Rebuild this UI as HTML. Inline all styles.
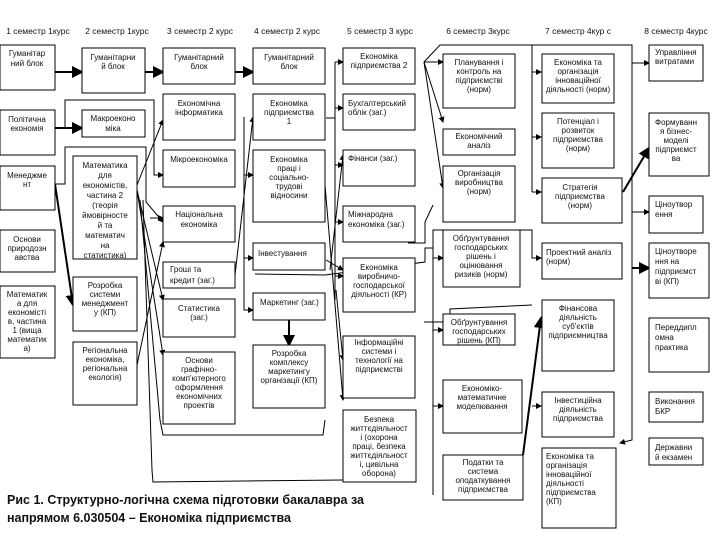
<!DOCTYPE html>
<html><head><meta charset="utf-8"><style>
html,body{margin:0;padding:0;background:#fff;}
svg{display:block;}
text{font-family:"Liberation Sans",sans-serif;font-size:8px;fill:#111;}
.h{font-size:8.5px;}
.c{font-family:"Liberation Sans",sans-serif;font-size:12.5px;font-weight:bold;}
rect{fill:#fff;stroke:#000;stroke-width:1;}
line,polyline{stroke:#000;stroke-width:1;fill:none;}
.t{stroke-width:2;}
</style></head><body>
<svg width="720" height="540" viewBox="0 0 720 540" xmlns="http://www.w3.org/2000/svg">
<defs><marker id="a" markerWidth="6" markerHeight="6" refX="5" refY="3" orient="auto"><path d="M0,0 L6,3 L0,6 z" fill="#000"/></marker></defs>
<!-- headers -->
<g class="h" text-anchor="middle">
<text x="38" y="34" class="h">1 семестр 1курс</text>
<text x="117" y="34" class="h">2 семестр 1курс</text>
<text x="200" y="34" class="h">3 семестр 2 курс</text>
<text x="287" y="34" class="h">4 семестр 2 курс</text>
<text x="380" y="34" class="h">5 семестр 3 курс</text>
<text x="478" y="34" class="h">6 семестр 3курс</text>
<text x="578" y="34" class="h">7 семестр 4кур с</text>
<text x="676" y="34" class="h">8 семестр 4курс</text>
</g>
<!-- connectors -->
<g>
<line x1="55" y1="72" x2="82" y2="72" class="t" marker-end="url(#a)"/>
<line x1="145" y1="72" x2="163" y2="72" class="t" marker-end="url(#a)"/>
<line x1="235" y1="72" x2="253" y2="72" class="t" marker-end="url(#a)"/>
<line x1="55" y1="128" x2="82" y2="128" class="t" marker-end="url(#a)"/>
<polyline points="65,128 65,100 154,100 154,175 163,175" marker-end="url(#a)"/>
<polyline points="55,184 65,184 65,147 146,147 146,202 163,222" marker-end="url(#a)"/>
<line x1="55" y1="184" x2="73" y2="305" class="t" marker-end="url(#a)"/>
<line x1="137" y1="185" x2="163" y2="120" marker-end="url(#a)"/>
<line x1="137" y1="190" x2="163" y2="300" marker-end="url(#a)"/>
<line x1="137" y1="190" x2="163" y2="355" marker-end="url(#a)"/>
<line x1="140" y1="200" x2="160" y2="420"/>
<line x1="143" y1="200" x2="152" y2="470"/>
<line x1="137" y1="365" x2="163" y2="242" marker-end="url(#a)"/>
<polyline points="160,420 163,435 323,435 325,420"/>
<polyline points="152,470 153,482 343,480"/>
<line x1="150" y1="218" x2="163" y2="218" marker-end="url(#a)"/>
<line x1="235" y1="275" x2="253" y2="117" marker-end="url(#a)"/>
<polyline points="244,117 244,310 253,310" marker-end="url(#a)"/>
<line x1="244" y1="175" x2="253" y2="175" marker-end="url(#a)"/>
<line x1="244" y1="258" x2="253" y2="258" marker-end="url(#a)"/>
<line x1="289" y1="320" x2="289" y2="345" class="t" marker-end="url(#a)"/>
<line x1="325" y1="185" x2="343" y2="400" marker-end="url(#a)"/>
<line x1="330" y1="270" x2="343" y2="155" marker-end="url(#a)"/>
<line x1="326" y1="260" x2="343" y2="270" marker-end="url(#a)"/>
<line x1="326" y1="118" x2="335" y2="118"/>
<line x1="335" y1="62" x2="335" y2="300"/>
<line x1="335" y1="62" x2="343" y2="62" marker-end="url(#a)"/>
<line x1="335" y1="108" x2="343" y2="108" marker-end="url(#a)"/>
<line x1="335" y1="165" x2="343" y2="165" marker-end="url(#a)"/>
<line x1="335" y1="222" x2="343" y2="222" marker-end="url(#a)"/>
<line x1="335" y1="276" x2="343" y2="276" marker-end="url(#a)"/>
<line x1="336" y1="290" x2="343" y2="360" marker-end="url(#a)"/>
<polyline points="255,274 325,275 425,262 425,248 433,248 433,230 532,230 532,258 541,258" marker-end="url(#a)"/>
<line x1="433" y1="230" x2="433" y2="495"/>
<line x1="433" y1="258" x2="443" y2="258" marker-end="url(#a)"/>
<line x1="433" y1="330" x2="443" y2="330" marker-end="url(#a)"/>
<line x1="433" y1="406" x2="443" y2="406" marker-end="url(#a)"/>
<polyline points="424,322 425,322 450,322 450,309 532,305"/>
<polyline points="408,243 425,243 425,222 433,205"/>
<line x1="424" y1="62" x2="443" y2="62" marker-end="url(#a)"/>
<line x1="424" y1="62" x2="443" y2="122" marker-end="url(#a)"/>
<line x1="424" y1="62" x2="443" y2="188" marker-end="url(#a)"/>
<polyline points="424,62 440,45 632,45 632,440 620,443" marker-end="url(#a)"/>
<line x1="532" y1="45" x2="532" y2="192"/>
<line x1="532" y1="72" x2="541" y2="72" marker-end="url(#a)"/>
<line x1="532" y1="137" x2="541" y2="137" marker-end="url(#a)"/>
<line x1="532" y1="192" x2="541" y2="192" marker-end="url(#a)"/>
<line x1="523" y1="455" x2="541" y2="318" class="t" marker-end="url(#a)"/>
<line x1="532" y1="406" x2="541" y2="406" marker-end="url(#a)"/>
<line x1="632" y1="63" x2="649" y2="63" marker-end="url(#a)"/>
<line x1="623" y1="192" x2="649" y2="148" class="t" marker-end="url(#a)"/>
<line x1="632" y1="212" x2="649" y2="212" marker-end="url(#a)"/>
<line x1="632" y1="268" x2="649" y2="268" class="t" marker-end="url(#a)"/>
</g>
<!-- boxes -->
<g>
<rect x="0" y="45" width="55" height="45"/><rect x="0" y="110" width="55" height="45"/>
<rect x="0" y="166" width="55" height="44"/><rect x="0" y="230" width="55" height="42"/>
<rect x="0" y="286" width="55" height="72"/>
<rect x="82" y="48" width="63" height="45"/><rect x="82" y="110" width="63" height="27"/>
<rect x="73" y="156" width="64" height="103"/><rect x="73" y="277" width="64" height="54"/>
<rect x="73" y="342" width="64" height="63"/>
<rect x="163" y="48" width="72" height="36"/><rect x="163" y="94" width="72" height="46"/>
<rect x="163" y="150" width="72" height="37"/><rect x="163" y="206" width="72" height="36"/>
<rect x="163" y="262" width="72" height="26"/><rect x="163" y="299" width="72" height="38"/>
<rect x="163" y="352" width="72" height="72"/>
<rect x="253" y="48" width="72" height="36"/><rect x="253" y="94" width="72" height="46"/>
<rect x="253" y="150" width="72" height="72"/><rect x="253" y="243" width="72" height="27"/>
<rect x="253" y="293" width="72" height="27"/><rect x="253" y="345" width="72" height="63"/>
<rect x="343" y="48" width="72" height="36"/><rect x="343" y="94" width="72" height="36"/>
<rect x="343" y="150" width="72" height="36"/><rect x="343" y="206" width="72" height="36"/>
<rect x="343" y="258" width="72" height="54"/><rect x="343" y="336" width="72" height="62"/>
<rect x="343" y="410" width="73" height="72"/>
<rect x="443" y="54" width="72" height="54"/><rect x="443" y="129" width="72" height="26"/>
<rect x="443" y="166" width="72" height="56"/><rect x="443" y="230" width="77" height="57"/>
<rect x="443" y="314" width="72" height="31"/><rect x="443" y="380" width="79" height="53"/>
<rect x="443" y="455" width="80" height="45"/>
<rect x="542" y="54" width="72" height="49"/><rect x="542" y="113" width="72" height="55"/>
<rect x="542" y="178" width="80" height="45"/><rect x="542" y="243" width="80" height="36"/>
<rect x="542" y="300" width="72" height="71"/><rect x="542" y="392" width="72" height="45"/>
<rect x="542" y="448" width="74" height="80"/>
<rect x="649" y="45" width="54" height="36"/><rect x="649" y="113" width="60" height="63"/>
<rect x="649" y="196" width="54" height="37"/><rect x="649" y="243" width="60" height="55"/>
<rect x="649" y="318" width="60" height="54"/><rect x="649" y="392" width="54" height="30"/>
<rect x="649" y="438" width="54" height="27"/>
</g>
<!-- labels -->
<g text-anchor="middle">
<text x="27" y="56">Гуманітар</text><text x="27" y="66">ний блок</text>
<text x="27" y="122">Політична</text><text x="27" y="131">економія</text>
<text x="27" y="178">Менеджме</text><text x="27" y="187">нт</text>
<text x="27" y="242">Основи</text><text x="27" y="251">природозн</text><text x="27" y="260">авства</text>
<text x="27" y="297">Математик</text><text x="27" y="306">а для</text><text x="27" y="315">економісті</text><text x="27" y="324">в, частина</text><text x="27" y="333">1 (вища</text><text x="27" y="342">математик</text><text x="27" y="351">а)</text>
<text x="113" y="60">Гуманітарни</text><text x="113" y="69">й блок</text>
<text x="113" y="121">Макроеконо</text><text x="113" y="131">міка</text>
<text x="105" y="168">Математика</text><text x="105" y="178">для</text><text x="105" y="188">економістів,</text><text x="105" y="198">частина 2</text><text x="105" y="208">(теорія</text><text x="105" y="218">ймовірносте</text><text x="105" y="228">й та</text><text x="105" y="238">математич</text><text x="105" y="248">на</text><text x="105" y="258">статистика)</text>
<text x="105" y="288">Розробка</text><text x="105" y="297">системи</text><text x="105" y="306">менеджмент</text><text x="105" y="315">у (КП)</text>
<text x="105" y="353">Регіональна</text><text x="105" y="362">економіка,</text><text x="105" y="371">регіональна</text><text x="105" y="380">екологія)</text>
<text x="199" y="60">Гуманітарний</text><text x="199" y="69">блок</text>
<text x="199" y="106">Економічна</text><text x="199" y="115">інформатика</text>
<text x="199" y="162">Мікроекономіка</text>
<text x="199" y="217">Національна</text><text x="199" y="227">економіка</text>
<text x="199" y="311">Статистика</text><text x="199" y="320">(заг.)</text>
<text x="199" y="363">Основи</text><text x="199" y="372">графічно-</text><text x="199" y="381">комп'ютерного</text><text x="199" y="390">оформлення</text><text x="199" y="399">економічних</text><text x="199" y="408">проектів</text>
<text x="289" y="60">Гуманітарний</text><text x="289" y="69">блок</text>
<text x="289" y="106">Економіка</text><text x="289" y="115">підприємства</text><text x="289" y="124">1</text>
<text x="289" y="162">Економіка</text><text x="289" y="171">праці і</text><text x="289" y="180">соціально-</text><text x="289" y="189">трудові</text><text x="289" y="198">відносини</text>
<text x="289" y="356">Розробка</text><text x="289" y="365">комплексу</text><text x="289" y="374">маркетингу</text><text x="289" y="383">організації (КП)</text>
<text x="379" y="59">Економіка</text><text x="379" y="68">підприємства 2</text>
<text x="379" y="399" font-size="7.5"></text>
<text x="379" y="270">Економіка</text><text x="379" y="279">виробничо-</text><text x="379" y="288">господарської</text><text x="379" y="297">діяльності (КР)</text>
<text x="379" y="345">Інформаційні</text><text x="379" y="354">системи і</text><text x="379" y="363">технології на</text><text x="379" y="372">підприємстві</text>
<text x="379" y="422">Безпека</text><text x="379" y="431">життєдіяльност</text><text x="379" y="440">і (охорона</text><text x="379" y="449">праці, безпека</text><text x="379" y="458">життєдіяльност</text><text x="379" y="467">і, цивільна</text><text x="379" y="476">оборона)</text>
<text x="479" y="65">Планування і</text><text x="479" y="74">контроль на</text><text x="479" y="83">підприємстві</text><text x="479" y="92">(норм)</text>
<text x="479" y="139">Економічний</text><text x="479" y="148">аналіз</text>
<text x="479" y="176">Організація</text><text x="479" y="185">виробництва</text><text x="479" y="194">(норм)</text>
<text x="481" y="241">Обґрунтування</text><text x="481" y="250">господарських</text><text x="481" y="259">рішень і</text><text x="481" y="268">оцінювання</text><text x="481" y="277">ризиків (норм)</text>
<text x="479" y="325">Обґрунтування</text><text x="479" y="334">господарських</text><text x="479" y="343">рішень (КП)</text>
<text x="482" y="391">Економіко-</text><text x="482" y="400">математичне</text><text x="482" y="409">моделювання</text>
<text x="483" y="465">Податки та</text><text x="483" y="474">система</text><text x="483" y="483">оподаткування</text><text x="483" y="492">підприємства</text>
<text x="578" y="65">Економіка та</text><text x="578" y="74">організація</text><text x="578" y="83">інноваційної</text><text x="578" y="92">діяльності (норм)</text>
<text x="578" y="124">Потенціал і</text><text x="578" y="133">розвиток</text><text x="578" y="142">підприємства</text><text x="578" y="151">(норм)</text>
<text x="580" y="190">Стратегія</text><text x="580" y="199">підприємства</text><text x="580" y="208">(норм)</text>
<text x="578" y="311">Фінансова</text><text x="578" y="320">діяльність</text><text x="578" y="329">суб'єктів</text><text x="578" y="338">підприємництва</text>
<text x="578" y="403">Інвестиційна</text><text x="578" y="412">діяльність</text><text x="578" y="421">підприємства</text>
<text x="676" y="125">Формуванн</text><text x="676" y="134">я бізнес-</text><text x="676" y="143">моделі</text><text x="676" y="152">підприємст</text><text x="676" y="161">ва</text>
</g>
<g>
<text x="170" y="272">Гроші  та</text><text x="170" y="283">кредит  (заг.)</text>
<text x="258" y="256">Інвестування</text>
<text x="260" y="305">Маркетинг (заг.)</text>
<text x="348" y="106">Бухгалтерський</text><text x="348" y="115">облік (заг.)</text>
<text x="348" y="161">Фінанси (заг.)</text>
<text x="348" y="217">Міжнародна</text><text x="348" y="227">економіка  (заг.)</text>
<text x="546" y="255">Проектний аналіз</text><text x="546" y="264">(норм)</text>
<text x="546" y="459">Економіка та</text><text x="546" y="468">організація</text><text x="546" y="477">інноваційної</text><text x="546" y="486">діяльності</text><text x="546" y="495">підприємства</text><text x="546" y="504">(КП)</text>
<text x="655" y="55">Управління</text><text x="655" y="64">витратами</text>
<text x="655" y="207">Ціноутвор</text><text x="655" y="217">ення</text>
<text x="655" y="254">Ціноутворе</text><text x="655" y="264">ння на</text><text x="655" y="274">підприємст</text><text x="655" y="284">ві (КП)</text>
<text x="655" y="330">Переддипл</text><text x="655" y="340">омна</text><text x="655" y="350">практика</text>
<text x="655" y="404">Виконання</text><text x="655" y="414">БКР</text>
<text x="655" y="450">Державни</text><text x="655" y="460">й екзамен</text>
</g>
<text x="7" y="504" class="c">Рис 1. Структурно-логічна схема підготовки бакалавра за</text>
<text x="7" y="522" class="c">напрямом 6.030504 – Економіка підприємства</text>
</svg>
</body></html>
